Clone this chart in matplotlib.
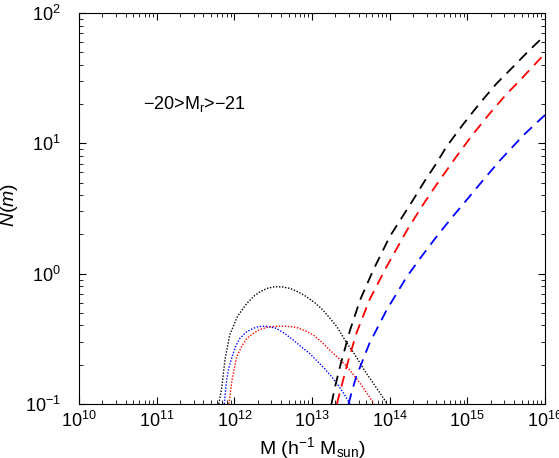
import numpy as np
import matplotlib
matplotlib.use("Agg")
import matplotlib.pyplot as plt
from matplotlib.ticker import LogLocator, NullFormatter

plt.rcParams['font.family'] = ['Liberation Sans', 'DejaVu Sans']
plt.rcParams['mathtext.fontset'] = 'custom'
plt.rcParams['mathtext.rm'] = 'Liberation Sans'
plt.rcParams['mathtext.it'] = 'Liberation Sans:italic'
plt.rcParams['mathtext.bf'] = 'Liberation Sans:bold'

# central galaxies (dotted): log10 M and N(m)
cen_black_logm = [11.80, 11.84, 11.88, 11.94, 12.04, 12.16, 12.25, 12.33, 12.42, 12.52, 12.62, 12.72,
                  12.83, 12.93, 13.04, 13.14, 13.23, 13.32, 13.45, 13.54, 13.62, 13.70, 13.79, 13.88, 13.97]
cen_black_n = [0.1, 0.136, 0.22, 0.338, 0.47, 0.59, 0.67, 0.726, 0.77, 0.794, 0.79, 0.77,
               0.72, 0.665, 0.595, 0.526, 0.455, 0.392, 0.292, 0.245, 0.205, 0.172, 0.144, 0.12, 0.1]

cen_red_logm = [11.93, 11.97, 12.03, 12.10, 12.16, 12.25, 12.33, 12.45, 12.59, 12.70, 12.80, 12.91,
                13.02, 13.12, 13.23, 13.34, 13.45, 13.54, 13.62, 13.71, 13.80]
cen_red_n = [0.1, 0.152, 0.23, 0.28, 0.318, 0.35, 0.374, 0.39, 0.396, 0.393, 0.387, 0.365,
             0.338, 0.30, 0.259, 0.225, 0.193, 0.166, 0.144, 0.12, 0.1]

cen_blue_logm = [11.87, 11.90, 11.93, 11.97, 12.02, 12.07, 12.15, 12.24, 12.31, 12.39, 12.47, 12.54,
                 12.65, 12.76, 12.86, 12.97, 13.05, 13.14, 13.23, 13.32, 13.41, 13.49]
cen_blue_n = [0.1, 0.152, 0.19, 0.23, 0.28, 0.318, 0.355, 0.38, 0.392, 0.396, 0.39, 0.38,
              0.347, 0.309, 0.275, 0.244, 0.218, 0.193, 0.168, 0.144, 0.12, 0.1]

# satellite galaxies (dashed)
sat_black_logm = [13.25, 13.30, 13.36, 13.49, 13.62, 13.79, 14.0, 14.30, 14.45, 14.60, 14.73,
                  14.95, 15.16, 15.37, 15.59, 15.80, 16.0]
sat_black_n = [0.1, 0.138, 0.193, 0.369, 0.63, 1.07, 1.92, 3.67, 5.13, 7.0, 9.4,
               14.1, 20.3, 28.5, 38.7, 51.9, 67.6]

sat_red_logm = [13.32, 13.445, 13.57, 13.74, 13.96, 14.22, 14.43, 14.60, 14.86, 15.07, 15.29,
                15.50, 15.72, 16.0]
sat_red_n = [0.1, 0.193, 0.347, 0.63, 1.13, 2.14, 3.39, 4.79, 7.94, 11.7, 17.0,
             23.7, 32.4, 49.0]

sat_blue_logm = [13.47, 13.52, 13.57, 13.74, 13.96, 14.22, 14.42, 14.62, 14.80, 14.99, 15.20,
                 15.42, 15.72, 15.86, 16.0]
sat_blue_n = [0.1, 0.129, 0.162, 0.292, 0.525, 0.946, 1.38, 1.98, 2.69, 3.67, 5.19,
              7.4, 11.5, 13.8, 16.5]

fig = plt.figure(figsize=(5.59, 4.58), dpi=100)
ax = fig.add_axes([0.1413, 0.118, 0.8337, 0.8536])

dot = dict(linestyle=(0, (1, 1.2)), linewidth=1.0)
dash = dict(linestyle=(0, (6, 4)), linewidth=1.3)

ax.plot(10 ** np.array(cen_black_logm), cen_black_n, color='black', **dot)
ax.plot(10 ** np.array(cen_red_logm), cen_red_n, color='red', **dot)
ax.plot(10 ** np.array(cen_blue_logm), cen_blue_n, color='blue', **dot)
ax.plot(10 ** np.array(sat_black_logm), sat_black_n, color='black', **dash)
ax.plot(10 ** np.array(sat_red_logm), sat_red_n, color='red', **dash)
ax.plot(10 ** np.array(sat_blue_logm), sat_blue_n, color='blue', **dash)

ax.set_xscale('log')
ax.set_yscale('log')
ax.set_xlim(1e10, 1e16)
ax.set_ylim(0.1, 100)

ax.xaxis.set_major_locator(LogLocator(base=10, numticks=20))
ax.xaxis.set_minor_locator(LogLocator(base=10, subs=np.arange(2, 10), numticks=20))
ax.xaxis.set_minor_formatter(NullFormatter())
ax.yaxis.set_minor_formatter(NullFormatter())

ax.tick_params(which='both', direction='in', top=True, right=True, labelsize=13)
ax.tick_params(which='major', length=5, width=0.8)
ax.tick_params(which='minor', length=3, width=0.6)
ax.tick_params(axis='x', pad=5)
ax.tick_params(axis='y', pad=13)

ax.set_xlabel(r'M (h$^{-1}$ M$_{\rm sun}$)', fontsize=14, va='baseline')
ax.xaxis.set_label_coords(0.5, -0.128)
ax.set_ylabel(r'$N(m)$', fontsize=14, va='center')
ax.yaxis.set_label_coords(-0.15, 0.51)

ax.text(6.6e10, 20, '\u221220>M$_{\\rm r}$>\u221221', fontsize=13, ha='left', va='center')

fig.savefig('out.png', dpi=100)
